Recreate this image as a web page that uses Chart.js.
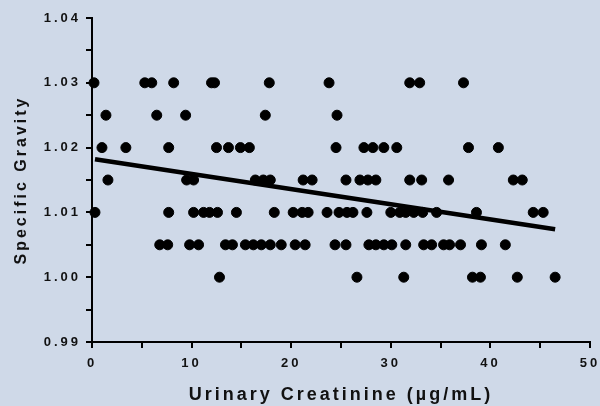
<!DOCTYPE html>
<html>
<head>
<meta charset="utf-8">
<script src="https://cdn.jsdelivr.net/npm/chart.js@4.4.0/dist/chart.umd.min.js"></script>
<style>
    body { margin: 0; background: #cfd9e8; }
    canvas { display: block; }
</style>
</head>
<body>
<canvas id="myChart" width="600" height="406"></canvas>
<script>
// specific gravity levels and the creatinine values found at each level
const sgLevels = [1.030, 1.025, 1.020, 1.015, 1.010, 1.005, 1.000];
const creatinine1030 = [0.2, 5.3, 6.0, 8.2, 12.0, 12.3, 17.8, 23.8, 31.9, 32.9, 37.3];
const creatinine1025 = [1.4, 6.5, 9.4, 17.4, 24.6];
const creatinine1020 = [1.0, 3.4, 7.7, 12.5, 13.7, 14.9, 15.8, 24.5, 27.3, 28.2, 29.3, 30.6, 37.8, 40.8];
const creatinine1015 = [1.6, 9.5, 10.2, 16.4, 17.2, 17.9, 21.2, 22.1, 25.5, 26.9, 27.7, 28.5, 31.9, 33.1, 35.8, 42.3, 43.2];
const creatinine1010 = [0.3, 7.7, 10.2, 11.2, 11.8, 12.6, 14.5, 18.3, 20.2, 21.1, 21.7, 23.6, 24.8, 25.6, 26.2, 27.6,
    30.0, 30.9, 31.5, 32.3, 33.2, 34.6, 38.6, 44.3, 45.3];
const creatinine1005 = [6.8, 7.6, 9.8, 10.7, 13.4, 14.1, 15.4, 16.2, 17.0, 17.9, 19.0, 20.4, 21.4, 24.4, 25.5, 27.8,
    28.5, 29.3, 30.1, 31.5, 33.3, 34.1, 35.3, 35.9, 37.0, 39.1, 41.5];
const creatinine1000 = [12.8, 26.6, 31.3, 38.2, 39.0, 42.7, 46.5];

// regression line end points
const fitX = [0.3, 46.5];
const fitY = [1.0182, 1.0074];

const xTicks = ['0', '10', '20', '30', '40', '50'];
const yTicks = ['0.99', '1.00', '1.01', '1.02', '1.03', '1.04'];

const groups = [creatinine1030, creatinine1025, creatinine1020, creatinine1015, creatinine1010, creatinine1005, creatinine1000];
const points = [];
groups.forEach((xs, i) => {
    xs.forEach(x => points.push({ x: x, y: sgLevels[i] }));
});
const fitLine = fitX.map((x, i) => ({ x: x, y: fitY[i] }));

// spaced out lettering like the original graph
const spacing = {
    id: 'spacing',
    beforeLayout(chart) { chart.ctx.letterSpacing = '3px'; },
    beforeDraw(chart) { chart.ctx.letterSpacing = '3px'; }
};

const family = 'Liberation Sans, Arial, sans-serif';
const tickFont = { family: family, size: 13, weight: 'bold' };
const ink = '#111';

const ctx = document.getElementById('myChart').getContext('2d');
let chart = new Chart(ctx, {
    type: 'scatter',
    data: {
        datasets: [{
            data: points,
            backgroundColor: '#000',
            borderColor: '#000',
            borderWidth: 1,
            pointRadius: 5,
            clip: false
        }, {
            type: 'line',
            data: fitLine,
            borderColor: '#000',
            borderWidth: 4.5,
            pointRadius: 0,
            fill: false
        }]
    },
    plugins: [spacing],
    options: {
        responsive: false,
        animation: false,
        layout: { padding: { top: 18, right: 10, left: 0, bottom: 0 } },
        plugins: {
            legend: { display: false },
            tooltip: { enabled: false }
        },
        scales: {
            x: {
                type: 'linear',
                min: 0,
                max: 50,
                afterFit: scale => {
                    scale.height = 64;
                    scale.paddingRight = 0;
                    scale.paddingLeft = 0;
                },
                border: { color: '#000', width: 2 },
                grid: { drawOnChartArea: false, drawTicks: true, tickLength: 6, color: '#000', lineWidth: 2 },
                ticks: {
                    stepSize: 5,
                    autoSkip: false,
                    maxRotation: 0,
                    padding: 8,
                    color: ink,
                    font: tickFont,
                    callback: (v, i) => (i % 2 === 0 ? xTicks[i / 2] : '')
                },
                title: {
                    display: true,
                    text: 'Urinary Creatinine (µg/mL)',
                    color: ink,
                    font: { family: family, size: 18, weight: 'bold' },
                    padding: { top: 0, bottom: 0 }
                }
            },
            y: {
                type: 'linear',
                min: 0.99,
                max: 1.04,
                afterFit: scale => { scale.width = 92; },
                border: { color: '#000', width: 2 },
                grid: { drawOnChartArea: false, drawTicks: true, tickLength: 6, color: '#000', lineWidth: 2 },
                ticks: {
                    stepSize: 0.005,
                    autoSkip: false,
                    padding: 5,
                    color: ink,
                    font: tickFont,
                    callback: (v, i) => (i % 2 === 0 ? yTicks[i / 2] : '')
                },
                title: {
                    display: true,
                    text: 'Specific Gravity',
                    color: ink,
                    font: { family: family, size: 16, weight: 'bold' },
                    padding: { top: 12, bottom: 0 }
                }
            }
        }
    }
});
</script>
</body>
</html>
